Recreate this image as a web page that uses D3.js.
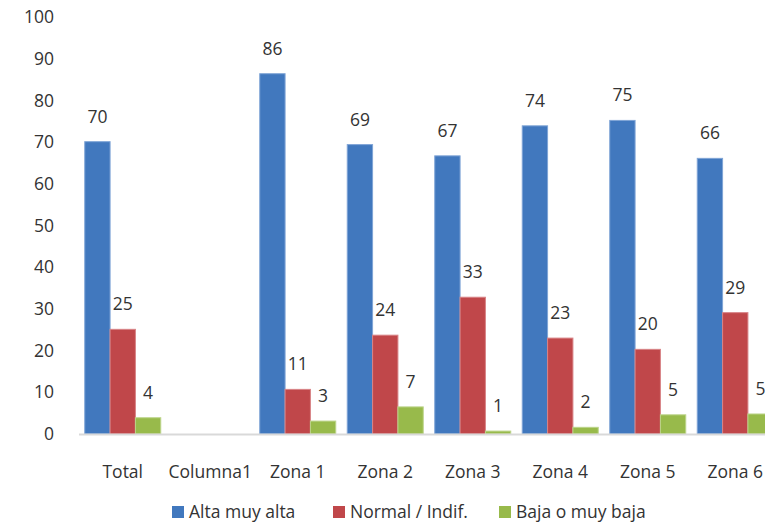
<!DOCTYPE html>
<html>
<head>
<meta charset="utf-8">
<script src="https://cdn.jsdelivr.net/npm/d3@7"></script>
<style>
  body { margin: 0; background: #fff; }
  svg { display: block; font-family: "Open Sans", sans-serif; }
  text { fill: #333; }
</style>
</head>
<body>
<div id="chart"></div>
<script>
// data
var categories = ['Total', 'Columna1', 'Zona 1', 'Zona 2', 'Zona 3', 'Zona 4', 'Zona 5', 'Zona 6'];
var seriesNames = ['Alta muy alta', 'Normal / Indif.', 'Baja o muy baja'];
var altaValues   = [70.1, null, 86.4, 69.4, 66.7, 73.9, 75.2, 66.1];
var normalValues = [25.1, null, 10.7, 23.7, 32.8, 23.0, 20.3, 29.1];
var bajaValues   = [3.9,  null, 3.1,  6.5,  0.7,  1.6,  4.6,  4.8];
var yTicks = [0, 10, 20, 30, 40, 50, 60, 70, 80, 90, 100];

var seriesValues = [altaValues, normalValues, bajaValues];
var colors = ['#4178BE', '#C0474A', '#98BA4B'];
var strokes = ['#7FA4D6', '#D88386', '#BCD48A'];

var width = 765;
var height = 525;
var margin = { top: 17, left: 79, bottom: 91 };
var plotBottom = height - margin.bottom;
var fontSize = '17.5px';

var svg = d3.select('#chart')
    .append('svg')
    .attr('width', width)
    .attr('height', height);

var x = d3.scaleBand()
    .domain(categories)
    .range([margin.left, margin.left + 8 * 87.5]);

var x1 = d3.scaleBand()
    .domain(seriesNames)
    .range([0, 76]);

var y = d3.scaleLinear()
    .domain([0, 100])
    .range([plotBottom, margin.top]);

// y axis labels
svg.selectAll('.ytick')
    .data(yTicks)
    .enter()
    .append('text')
    .attr('class', 'ytick')
    .attr('x', 54)
    .attr('y', function (d) { return y(d); })
    .attr('dy', '0.35em')
    .attr('text-anchor', 'end')
    .style('font-size', fontSize)
    .text(function (d) { return d; });

// bars
var groups = svg.selectAll('.series')
    .data(seriesValues)
    .enter()
    .append('g')
    .attr('class', 'series');

groups.each(function (vals, si) {
    var g = d3.select(this);
    var rows = categories.map(function (c, i) { return { cat: c, v: vals[i] }; })
        .filter(function (d) { return d.v !== null; });

    g.selectAll('rect')
        .data(rows)
        .enter()
        .append('rect')
        .attr('x', function (d) {
            return x(d.cat) + x.bandwidth() / 2 - 38 + x1(seriesNames[si]);
        })
        .attr('y', function (d) { return y(d.v); })
        .attr('width', x1.bandwidth())
        .attr('height', function (d) { return plotBottom - y(d.v); })
        .attr('fill', colors[si])
        .attr('stroke', strokes[si])
        .attr('stroke-width', 1);

    g.selectAll('text')
        .data(rows)
        .enter()
        .append('text')
        .attr('x', function (d) {
            return x(d.cat) + x.bandwidth() / 2 - 38 + x1(seriesNames[si]) + x1.bandwidth() / 2;
        })
        .attr('y', function (d) { return y(d.v) - 19; })
        .attr('text-anchor', 'middle')
        .style('font-size', fontSize)
        .text(function (d) { return d3.format('.0f')(d.v); });
});

// x axis line
svg.append('line')
    .attr('x1', margin.left)
    .attr('x2', width)
    .attr('y1', plotBottom + 0.5)
    .attr('y2', plotBottom + 0.5)
    .attr('stroke', '#d9d9d9')
    .attr('stroke-width', 2);

// category labels
svg.selectAll('.xlabel')
    .data(categories)
    .enter()
    .append('text')
    .attr('class', 'xlabel')
    .attr('x', function (d) { return x(d) + x.bandwidth() / 2; })
    .attr('y', 478)
    .attr('text-anchor', 'middle')
    .style('font-size', fontSize)
    .text(function (d) { return d; });

// legend
var legendX = [172, 333, 499];
var legend = svg.selectAll('.legend')
    .data(seriesNames)
    .enter()
    .append('g')
    .attr('class', 'legend')
    .attr('transform', function (d, i) { return 'translate(' + legendX[i] + ',506)'; });

legend.append('rect')
    .attr('width', 12)
    .attr('height', 12)
    .attr('fill', function (d, i) { return colors[i]; });

legend.append('text')
    .attr('x', 17)
    .attr('y', 6)
    .attr('dy', '0.35em')
    .style('font-size', fontSize)
    .text(function (d) { return d; });
</script>
</body>
</html>
